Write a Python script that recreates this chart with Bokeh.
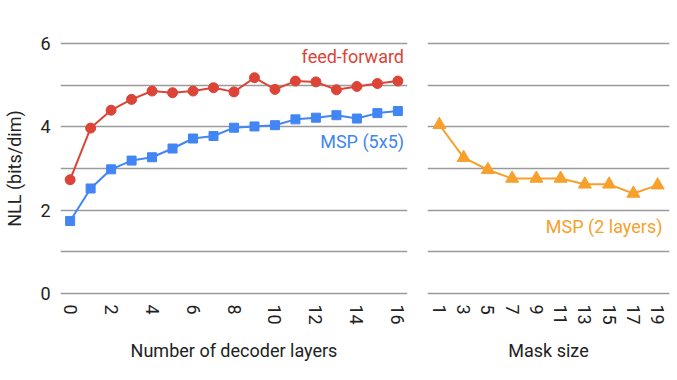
from bokeh.plotting import figure
from bokeh.layouts import row
from bokeh.models import Range1d, FixedTicker, Grid
from bokeh.core.properties import value
from bokeh.embed import file_html
from bokeh.resources import INLINE

# ---- data ----
layers = list(range(17))
feed_forward = [2.73, 3.97, 4.40, 4.66, 4.86, 4.82, 4.86, 4.94, 4.84, 5.18,
                4.90, 5.10, 5.08, 4.89, 4.97, 5.04, 5.10]
msp_5x5 = [1.74, 2.52, 2.98, 3.19, 3.27, 3.48, 3.72, 3.78, 3.98, 4.01,
           4.04, 4.18, 4.22, 4.28, 4.20, 4.33, 4.38]
mask_sizes = [1, 3, 5, 7, 9, 11, 13, 15, 17, 19]
msp_2layers = [4.05, 3.26, 2.97, 2.76, 2.76, 2.76, 2.62, 2.62, 2.40, 2.60]
layer_ticks = [0, 2, 4, 6, 8, 10, 12, 14, 16]
y_label_ticks = [0, 2, 4, 6]
y_grid_ticks = [0, 1, 2, 3, 4, 5, 6]

RED = "#DB4437"
BLUE = "#4285F4"
ORANGE = "#F7A02C"
GRID = "#9a9a9a"
TXT = "#222222"
FONT = "Roboto"
FS = "18px"

y_range = Range1d(-0.05, 6.05)


def style(p, xlabel, xticks):
    p.outline_line_color = None
    p.background_fill_color = "white"
    p.border_fill_color = "white"
    p.xgrid.visible = False
    for ax in p.axis:
        ax.axis_line_color = None
        ax.major_tick_line_color = None
        ax.minor_tick_line_color = None
        ax.major_tick_out = 0
        ax.major_tick_in = 0
        ax.minor_tick_out = 0
        ax.major_label_text_font = FONT
        ax.major_label_text_font_size = FS
        ax.major_label_text_color = TXT
        ax.axis_label_text_font = FONT
        ax.axis_label_text_font_size = FS
        ax.axis_label_text_font_style = "normal"
        ax.axis_label_text_color = TXT
    p.xaxis.ticker = FixedTicker(ticks=xticks)
    p.xaxis.axis_label = xlabel
    p.xaxis.major_label_orientation = "vertical"
    p.xaxis.major_label_standoff = 9
    p.xaxis.axis_label_standoff = 12
    p.add_layout(Grid(dimension=1, ticker=FixedTicker(ticks=y_grid_ticks),
                      grid_line_color=GRID, grid_line_width=1.6))


p1 = figure(width=417, height=376, x_range=Range1d(-0.47, 16.47), y_range=y_range,
            output_backend="svg", toolbar_location=None,
            min_border_left=60, min_border_right=10, min_border_top=41, min_border_bottom=81)
p1.ygrid.visible = False
style(p1, "Number of decoder layers", layer_ticks)
p1.yaxis.ticker = FixedTicker(ticks=y_label_ticks)
p1.yaxis.axis_label = "NLL (bits/dim)"
p1.yaxis.major_label_standoff = 10
p1.yaxis.axis_label_standoff = 12

p1.line(layers, feed_forward, line_color=RED, line_width=2)
p1.scatter(layers, feed_forward, marker="circle", size=10, fill_color=RED, line_color=RED)
p1.line(layers, msp_5x5, line_color=BLUE, line_width=2)
p1.scatter(layers, msp_5x5, marker="square", size=9, fill_color=BLUE, line_color=BLUE)
p1.text(x=[16.3], y=[5.7], text=["feed-forward"], text_color=RED, text_align="right",
        text_baseline="middle", text_font=value(FONT), text_font_size=FS)
p1.text(x=[16.3], y=[3.65], text=["MSP (5x5)"], text_color=BLUE, text_align="right",
        text_baseline="middle", text_font=value(FONT), text_font_size=FS)

p2 = figure(width=260, height=376, x_range=Range1d(0.02, 19.98), y_range=y_range,
            output_backend="svg", toolbar_location=None, y_axis_location=None,
            min_border_left=10, min_border_right=8, min_border_top=41, min_border_bottom=81)
style(p2, "Mask size", mask_sizes)
p2.line(mask_sizes, msp_2layers, line_color=ORANGE, line_width=2)
p2.scatter(mask_sizes, msp_2layers, marker="triangle", size=13, fill_color=ORANGE, line_color=ORANGE)
p2.text(x=[19.4], y=[1.61], text=["MSP (2 layers)"], text_color=ORANGE, text_align="right",
        text_baseline="middle", text_font=value(FONT), text_font_size=FS)

layout = row(p1, p2)
open("out.html", "w").write(file_html(layout, INLINE))
